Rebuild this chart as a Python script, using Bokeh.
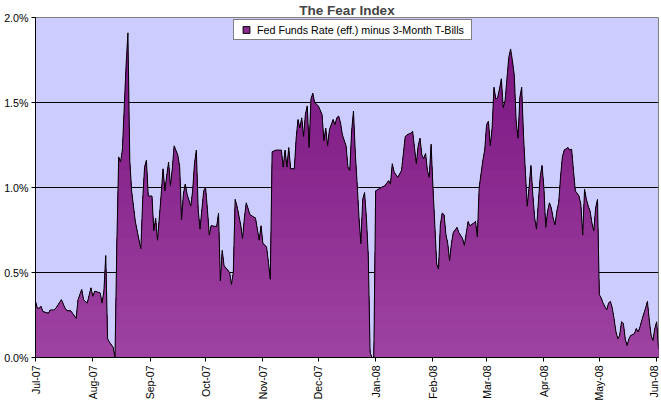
import numpy as np
import pandas as pd
from math import pi
from bokeh.plotting import figure
from bokeh.models import (FixedTicker, PrintfTickFormatter, MonthsTicker,
                          DatetimeTickFormatter, Legend, LegendItem, Range1d,
                          ColumnDataSource)
from bokeh.embed import file_html
from bokeh.resources import INLINE

chart_title = "The Fear Index"
series_name = "Fed Funds Rate (eff.) minus 3-Month T-Bills"

# spread, in percent
dates = [
    "2007-07-01", "2007-07-02", "2007-07-03", "2007-07-04", "2007-07-05", "2007-07-08",
    "2007-07-09", "2007-07-11", "2007-07-12", "2007-07-15", "2007-07-17", "2007-07-18",
    "2007-07-20", "2007-07-23", "2007-07-24", "2007-07-26", "2007-07-27", "2007-07-29",
    "2007-07-31", "2007-08-01", "2007-08-02", "2007-08-05", "2007-08-06", "2007-08-07",
    "2007-08-08", "2007-08-09", "2007-08-10", "2007-08-12", "2007-08-13", "2007-08-14",
    "2007-08-15", "2007-08-16", "2007-08-17", "2007-08-18", "2007-08-19", "2007-08-20",
    "2007-08-21", "2007-08-22", "2007-08-24", "2007-08-26", "2007-08-27", "2007-08-28",
    "2007-08-29", "2007-08-30", "2007-08-31", "2007-09-02", "2007-09-03", "2007-09-04",
    "2007-09-05", "2007-09-07", "2007-09-08", "2007-09-09", "2007-09-10", "2007-09-11",
    "2007-09-12", "2007-09-13", "2007-09-14", "2007-09-16", "2007-09-17", "2007-09-18",
    "2007-09-19", "2007-09-20", "2007-09-21", "2007-09-23", "2007-09-24", "2007-09-25",
    "2007-09-26", "2007-09-27", "2007-09-28", "2007-09-29", "2007-09-30", "2007-10-01",
    "2007-10-02", "2007-10-03", "2007-10-04", "2007-10-07", "2007-10-08", "2007-10-09",
    "2007-10-10", "2007-10-11", "2007-10-14", "2007-10-15", "2007-10-16", "2007-10-17",
    "2007-10-18", "2007-10-20", "2007-10-21", "2007-10-22", "2007-10-23", "2007-10-25",
    "2007-10-28", "2007-10-30", "2007-10-31", "2007-11-01", "2007-11-03", "2007-11-04",
    "2007-11-05", "2007-11-06", "2007-11-08", "2007-11-11", "2007-11-12", "2007-11-13",
    "2007-11-14", "2007-11-15", "2007-11-16", "2007-11-18", "2007-11-19", "2007-11-20",
    "2007-11-21", "2007-11-22", "2007-11-23", "2007-11-24", "2007-11-25", "2007-11-26",
    "2007-11-27", "2007-11-28", "2007-11-29", "2007-12-01", "2007-12-03", "2007-12-04",
    "2007-12-05", "2007-12-06", "2007-12-07", "2007-12-09", "2007-12-10", "2007-12-11",
    "2007-12-12", "2007-12-13", "2007-12-14", "2007-12-16", "2007-12-17", "2007-12-18",
    "2007-12-19", "2007-12-20", "2007-12-21", "2007-12-22", "2007-12-23", "2007-12-24",
    "2007-12-25", "2007-12-26", "2007-12-27", "2007-12-28", "2007-12-29", "2007-12-30",
    "2007-12-31", "2008-01-01", "2008-01-04", "2008-01-06", "2008-01-08", "2008-01-09",
    "2008-01-10", "2008-01-11", "2008-01-13", "2008-01-15", "2008-01-17", "2008-01-18",
    "2008-01-20", "2008-01-21", "2008-01-22", "2008-01-23", "2008-01-24", "2008-01-25",
    "2008-01-26", "2008-01-27", "2008-01-28", "2008-01-29", "2008-01-30", "2008-01-31",
    "2008-02-01", "2008-02-02", "2008-02-03", "2008-02-04", "2008-02-05", "2008-02-06",
    "2008-02-07", "2008-02-08", "2008-02-09", "2008-02-10", "2008-02-11", "2008-02-12",
    "2008-02-14", "2008-02-15", "2008-02-17", "2008-02-18", "2008-02-20", "2008-02-21",
    "2008-02-23", "2008-02-24", "2008-02-25", "2008-02-26", "2008-02-28", "2008-02-29",
    "2008-03-01", "2008-03-02", "2008-03-03", "2008-03-04", "2008-03-05", "2008-03-06",
    "2008-03-07", "2008-03-08", "2008-03-09", "2008-03-10", "2008-03-11", "2008-03-13",
    "2008-03-14", "2008-03-15", "2008-03-16", "2008-03-17", "2008-03-18", "2008-03-19",
    "2008-03-20", "2008-03-21", "2008-03-22", "2008-03-23", "2008-03-24", "2008-03-25",
    "2008-03-26", "2008-03-27", "2008-03-28", "2008-03-29", "2008-03-30", "2008-03-31",
    "2008-04-01", "2008-04-02", "2008-04-03", "2008-04-04", "2008-04-05", "2008-04-06",
    "2008-04-07", "2008-04-08", "2008-04-09", "2008-04-10", "2008-04-11", "2008-04-12",
    "2008-04-14", "2008-04-15", "2008-04-16", "2008-04-17", "2008-04-18", "2008-04-20",
    "2008-04-21", "2008-04-22", "2008-04-23", "2008-04-24", "2008-04-25", "2008-04-26",
    "2008-04-27", "2008-04-28", "2008-04-29", "2008-04-30", "2008-05-01", "2008-05-02",
    "2008-05-03", "2008-05-05", "2008-05-06", "2008-05-07", "2008-05-08", "2008-05-09",
    "2008-05-10", "2008-05-11", "2008-05-12", "2008-05-13", "2008-05-14", "2008-05-15",
    "2008-05-16", "2008-05-17", "2008-05-18", "2008-05-20", "2008-05-21", "2008-05-22",
    "2008-05-23", "2008-05-24", "2008-05-26", "2008-05-27", "2008-05-28", "2008-05-29",
    "2008-05-30", "2008-05-31", "2008-06-01", "2008-06-02",
]
spread = [
    0.33, 0.29, 0.29, 0.30, 0.27, 0.26,
    0.28, 0.28, 0.29, 0.34, 0.29, 0.275,
    0.275, 0.23, 0.34, 0.40, 0.34, 0.32,
    0.41, 0.36, 0.39, 0.38, 0.32, 0.39,
    0.60, 0.11, 0.09, 0.06, 0.00, 0.67,
    1.18, 1.15, 1.22, 1.47, 1.72, 1.91,
    1.16, 0.98, 0.80, 0.69, 0.64, 0.93,
    1.12, 1.16, 0.95, 0.95, 0.745, 0.82,
    0.69, 0.96, 1.11, 0.98, 1.07, 1.15,
    1.01, 1.11, 1.245, 1.19, 1.12, 0.81,
    0.96, 1.02, 0.96, 0.89, 0.98, 1.14,
    1.22, 0.87, 0.755, 0.87, 0.98, 1.00,
    0.87, 0.72, 0.775, 0.77, 0.85, 0.45,
    0.63, 0.54, 0.50, 0.43, 0.50, 0.93,
    0.89, 0.78, 0.70, 0.82, 0.91, 0.84,
    0.82, 0.69, 0.775, 0.67, 0.65, 0.56,
    0.46, 1.21, 1.22, 1.22, 1.12, 1.22,
    1.12, 1.235, 1.11, 1.11, 1.29, 1.40,
    1.35, 1.41, 1.30, 1.43, 1.48, 1.235,
    1.52, 1.555, 1.50, 1.48, 1.43, 1.275,
    1.35, 1.245, 1.34, 1.40, 1.37, 1.41,
    1.42, 1.38, 1.31, 1.245, 1.12, 1.10,
    1.33, 1.45, 1.20, 1.02, 0.82, 0.67,
    0.93, 0.97, 0.82, 0.60, 0.03, 0.00,
    0.00, 0.98, 1.00, 1.01, 1.04, 1.02,
    1.14, 1.09, 1.06, 1.10, 1.30, 1.31,
    1.32, 1.33, 1.235, 1.14, 1.245, 1.29,
    1.19, 1.17, 1.20, 1.10, 1.06, 1.255,
    1.00, 0.78, 0.55, 0.52, 0.78, 0.85,
    0.84, 0.725, 0.67, 0.57, 0.67, 0.735,
    0.765, 0.735, 0.70, 0.66, 0.80, 0.775,
    0.79, 0.80, 0.71, 1.00, 1.16, 1.22,
    1.37, 1.39, 1.245, 1.35, 1.59, 1.52,
    1.53, 1.58, 1.64, 1.47, 1.51, 1.765,
    1.815, 1.745, 1.66, 1.39, 1.29, 1.53,
    1.59, 1.30, 1.09, 0.89, 1.00, 1.13,
    0.96, 0.82, 0.755, 0.91, 1.06, 1.13,
    1.00, 0.765, 0.86, 0.91, 0.88, 0.82,
    0.78, 0.86, 0.91, 1.06, 1.18, 1.22,
    1.235, 1.22, 1.225, 1.10, 0.98, 0.95,
    0.90, 0.72, 0.99, 0.93, 0.89, 0.86,
    0.79, 0.745, 0.88, 0.93, 0.37, 0.35,
    0.32, 0.28, 0.32, 0.33, 0.29, 0.225,
    0.15, 0.11, 0.13, 0.21, 0.20, 0.11,
    0.07, 0.11, 0.13, 0.14, 0.17, 0.15,
    0.18, 0.22, 0.29, 0.33, 0.22, 0.13,
    0.10, 0.17, 0.21, 0.05,
]

y_ticks = [0.0, 0.5, 1.0, 1.5, 2.0]
grid_lines = [0.5, 1.0, 1.5]
x_start, x_end = "2007-07-01", "2008-06-02"

FONT = "Liberation Sans"
x = pd.to_datetime(dates)
v = np.array(spread)

p = figure(width=659, height=403, x_axis_type="datetime",
           output_backend="svg", toolbar_location=None,
           x_range=Range1d(pd.Timestamp(x_start), pd.Timestamp(x_end)),
           y_range=Range1d(0, 2.0),
           min_border_left=35, min_border_right=1, min_border_top=0,
           min_border_bottom=46)

p.title.text = chart_title
p.title.align = "center"
p.title.text_font = FONT
p.title.text_font_size = "13.5px"
p.title.text_font_style = "bold"
p.title.standoff = 0
p.title.offset = 5

p.background_fill_color = "#CCCCFF"
p.border_fill_color = "white"
p.outline_line_color = "#808080"
p.outline_line_width = 1

# gradient-filled area: stacked clipped layers, darker towards the top
top_rgb = np.array([121, 17, 126])
bot_rgb = np.array([158, 67, 162])
band_tops = np.round(np.arange(2.0, 0.05, -0.1), 2)
for b in band_tops:
    t = (b - 0.05) / 2.0
    c = bot_rgb + (top_rgb - bot_rgb) * t
    col = "#%02x%02x%02x" % tuple(int(round(k)) for k in c)
    p.varea(x=x, y1=0, y2=np.minimum(v, b), fill_color=col, fill_alpha=1.0)

p.line(x, v, line_color="black", line_width=1)

# legend swatch: a zero-size marker on the first point (only the legend shows it)
proxy_src = ColumnDataSource(data=dict(x=x[:1], y=v[:1], s=[0]))
proxy = p.scatter(x="x", y="y", size="s", source=proxy_src, marker="square",
                  fill_color="#8A2A8E", line_color="black", line_width=1)

legend = Legend(items=[LegendItem(label=series_name, renderers=[proxy], index=0)],
                location=(198, 317), orientation="vertical")
legend.glyph_width = 22
legend.glyph_height = 17
legend.label_height = 13
legend.label_width = 213
legend.label_standoff = 0
legend.padding = 1
legend.spacing = 0
legend.margin = 0
legend.label_text_font = FONT
legend.label_text_font_size = "10.7px"
legend.label_text_color = "black"
legend.border_line_color = "black"
legend.border_line_width = 1
legend.background_fill_color = "white"
legend.background_fill_alpha = 1.0
p.add_layout(legend)

# grid
p.xgrid.visible = False
p.ygrid.ticker = FixedTicker(ticks=grid_lines)
p.ygrid.grid_line_color = "black"
p.ygrid.grid_line_width = 1

# y axis
p.yaxis.ticker = FixedTicker(ticks=y_ticks)
p.yaxis.formatter = PrintfTickFormatter(format="%.1f%%")
p.yaxis.major_label_text_font = FONT
p.yaxis.major_label_text_font_size = "10.7px"
p.yaxis.major_label_text_color = "black"
p.yaxis.major_tick_out = 4
p.yaxis.major_tick_in = 0
p.yaxis.minor_tick_line_color = None
p.yaxis.major_label_standoff = 3
p.yaxis.axis_line_color = "black"
p.yaxis.major_tick_line_color = "black"

# x axis
p.xaxis.ticker = MonthsTicker(months=list(range(12)))
p.xaxis.formatter = DatetimeTickFormatter(months="%b-%y", days="%b-%y",
                                          years="%b-%y")
p.xaxis.major_label_orientation = pi / 2
p.xaxis.major_label_text_font = FONT
p.xaxis.major_label_text_font_size = "10.5px"
p.xaxis.major_label_text_color = "black"
p.xaxis.major_tick_out = 4
p.xaxis.major_tick_in = 0
p.xaxis.minor_tick_line_color = None
p.xaxis.major_label_standoff = 4
p.xaxis.axis_line_color = "black"
p.xaxis.major_tick_line_color = "black"

open("out.html", "w").write(file_html(p, INLINE))
